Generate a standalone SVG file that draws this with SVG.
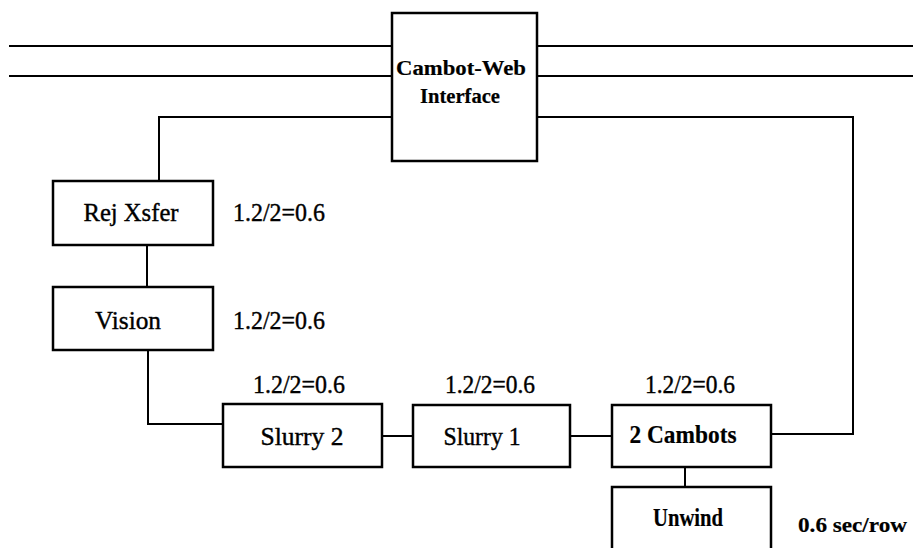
<svg xmlns="http://www.w3.org/2000/svg" width="913" height="548" viewBox="0 0 913 548">
<style>
.box{fill:#fff;stroke:#000;stroke-width:2.5}
.ln{fill:none;stroke:#000;stroke-width:2}
text{font-family:'Liberation Serif','Times New Roman',Times,serif;font-size:25px;fill:#000;text-anchor:middle;stroke:#000;stroke-width:0.4}
.b{font-weight:bold;stroke-width:0.2}
.l{text-anchor:start}
.s{font-size:22px}
</style>
<rect width="913" height="548" fill="#fff"/>
<g id="connectors">
<line class="ln" x1="9" y1="46" x2="392" y2="46"/>
<line class="ln" x1="9" y1="76" x2="392" y2="76"/>
<line class="ln" x1="537" y1="46" x2="913" y2="46"/>
<line class="ln" x1="537" y1="76" x2="913" y2="76"/>
<polyline class="ln" points="392,117 159,117 159,181"/>
<polyline class="ln" points="537,117 853,117 853,434 771,434"/>
<line class="ln" x1="147" y1="246" x2="147" y2="287"/>
<polyline class="ln" points="148,350 148,424 223,424"/>
<line class="ln" x1="382" y1="436" x2="413" y2="436"/>
<line class="ln" x1="570" y1="436" x2="612" y2="436"/>
<line class="ln" x1="685" y1="467" x2="685" y2="487"/>
</g>
<g id="cambot-web">
<rect class="box" x="392" y="13" width="145" height="148"/>
<text class="b s" x="461" y="75" textLength="130" lengthAdjust="spacingAndGlyphs">Cambot-Web</text>
<text class="b s" x="460" y="103" textLength="80" lengthAdjust="spacingAndGlyphs">Interface</text>
</g>
<g id="rej-xsfer">
<rect class="box" x="53" y="181" width="160" height="64"/>
<text x="131" y="221" textLength="95" lengthAdjust="spacingAndGlyphs">Rej Xsfer</text>
<text class="l" x="233" y="221" textLength="92" lengthAdjust="spacingAndGlyphs">1.2/2=0.6</text>
</g>
<g id="vision">
<rect class="box" x="53" y="287" width="160" height="63"/>
<text x="128" y="329" textLength="66" lengthAdjust="spacingAndGlyphs">Vision</text>
<text class="l" x="233" y="329" textLength="92" lengthAdjust="spacingAndGlyphs">1.2/2=0.6</text>
</g>
<g id="slurry2">
<rect class="box" x="223" y="404" width="159" height="63"/>
<text x="302" y="445" textLength="83" lengthAdjust="spacingAndGlyphs">Slurry 2</text>
<text x="299" y="393" textLength="92" lengthAdjust="spacingAndGlyphs">1.2/2=0.6</text>
</g>
<g id="slurry1">
<rect class="box" x="413" y="405" width="157" height="62"/>
<text x="482" y="445" textLength="77" lengthAdjust="spacingAndGlyphs">Slurry 1</text>
<text x="490" y="393" textLength="90" lengthAdjust="spacingAndGlyphs">1.2/2=0.6</text>
</g>
<g id="cambots">
<rect class="box" x="612" y="405" width="159" height="62"/>
<text class="b" x="683" y="443" textLength="107" lengthAdjust="spacingAndGlyphs">2 Cambots</text>
<text x="690" y="393" textLength="90" lengthAdjust="spacingAndGlyphs">1.2/2=0.6</text>
</g>
<g id="unwind">
<rect class="box" x="612" y="487" width="159" height="70"/>
<text class="b" x="688" y="526" textLength="70" lengthAdjust="spacingAndGlyphs">Unwind</text>
<text class="b l s" x="798" y="532" textLength="109" lengthAdjust="spacingAndGlyphs">0.6 sec/row</text>
</g>
</svg>
